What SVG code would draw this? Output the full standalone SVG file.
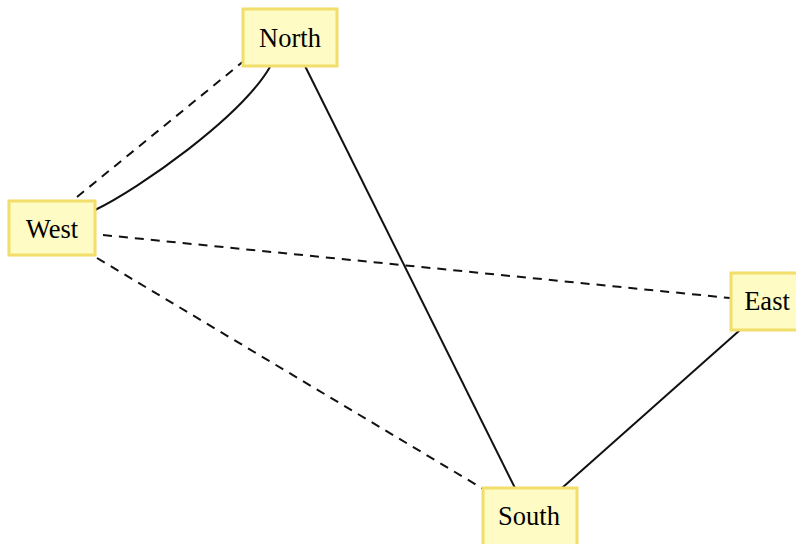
<svg xmlns="http://www.w3.org/2000/svg" width="796" height="544" viewBox="0 0 796 544">
<style>
.box{fill:#fefcc4;stroke:#f2de6a;stroke-width:3}
.lbl{font-family:"Liberation Serif","Times New Roman",serif;font-size:26.5px;fill:#000;text-anchor:middle;dominant-baseline:central}
.e{fill:none;stroke:#111;stroke-width:2}
.d{stroke-dasharray:9,7}
</style>
<rect width="796" height="544" fill="#fff"/>
<g id="edges">
<path class="e" d="M305,66 L515,488"/>
<path class="e" d="M740,330 L562,488"/>
<path class="e" d="M95,210 C140,188 240,118 270,67"/>
<path class="e d" d="M77,197 L245,60"/>
<path class="e d" d="M103,235 L730,298"/>
<path class="e d" d="M97,258 L485,490"/>
</g>
<g id="north"><rect class="box" x="243" y="9" width="94" height="57"/><text class="lbl" x="290" y="38">North</text></g>
<g id="west"><rect class="box" x="9" y="201" width="86" height="54"/><text class="lbl" x="52" y="229">West</text></g>
<g id="east"><rect class="box" x="731" y="273" width="72" height="57"/><text class="lbl" x="767" y="301">East</text></g>
<g id="south"><rect class="box" x="483" y="488" width="94" height="60"/><text class="lbl" x="529" y="516">South</text></g>
</svg>
